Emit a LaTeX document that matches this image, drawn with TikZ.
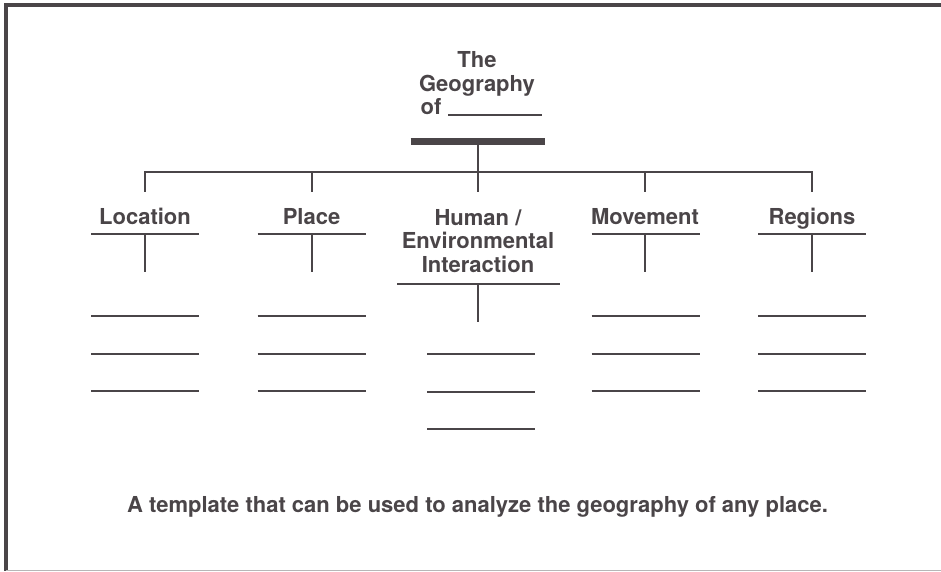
\documentclass[tikz,border=0pt]{standalone}
\usepackage{fontspec}
\setmainfont{TeX Gyre Heros}
\definecolor{ink}{HTML}{4A4548}
\definecolor{edge}{HTML}{B8B6B7}
\tikzset{
  lbl/.style={font=\fontsize{22}{26}\selectfont\bfseries, text=ink, inner sep=0pt, anchor=base},
  rule/.style={draw=ink, line width=2pt},
  blank/.style={draw=ink, line width=2pt}
}
\begin{document}
\begin{tikzpicture}[x=1pt, y=-1pt]
        \useasboundingbox (0,0) rectangle (941,571);
        % frame
        \draw[ink, line width=3.5pt] (941,5) -- (6,5) -- (6,571);
        \draw[edge, line width=1pt] (6,570) -- (941,570);

        % title
        \node[lbl] (the) at (477,67) {The};
        \node[lbl] (geo) at (477,91.5) {Geography};
        \node[lbl, anchor=base west] (of) at (420.5,114) {of};
        \coordinate (ofa) at (448,115);
        \coordinate (ofb) at (542,115);
        \draw[rule, line width=1.8pt] (ofa) -- (ofb);
        \coordinate (bara) at (410.5,141.5);
        \coordinate (barb) at (545,141.5);
        \draw[ink, line width=7pt] (bara) -- (barb);
        \coordinate (trunk) at (478,141.5);
        \coordinate (hub) at (478,172);
        \draw[rule] (trunk) -- (hub);

        % branch line
        \coordinate (brl) at (145,172);
        \coordinate (brr) at (812,172);
        \draw[rule] (brl |- 0,191.5) -- (brl) -- (brr) -- (brr |- 0,191.5);
        \coordinate (d2) at (311.5,191.5);
        \coordinate (d3) at (478,191.5);
        \coordinate (d4) at (645,191.5);
        \draw[rule] (d2 |- hub) -- (d2);
        \draw[rule] (hub) -- (d3);
        \draw[rule] (d4 |- hub) -- (d4);

        % headings
        \node[lbl] (loc) at (145,224) {Location};
        \node[lbl] (pla) at (311.5,224) {Place};
        \node[lbl] (hum1) at (478,225) {Human /};
        \node[lbl] (hum2) at (478,248.5) {Environmental};
        \node[lbl] (hum3) at (478,272) {Interaction};
        \node[lbl] (mov) at (645,224) {Movement};
        \node[lbl] (reg) at (812,224) {Regions};

        % Location
        \draw[rule] (91,234) -- (199,234);
        \draw[rule] (145,234) -- (145,272);
        \draw[blank] (91,315.5) -- (199,315.5);
        \draw[blank] (91,353.5) -- (199,353.5);
        \draw[blank] (91,391) -- (199,391);

        % Place
        \draw[rule] (257.5,234) -- (365.5,234);
        \draw[rule] (311.5,234) -- (311.5,272);
        \draw[blank] (257.5,315.5) -- (365.5,315.5);
        \draw[blank] (257.5,353.5) -- (365.5,353.5);
        \draw[blank] (257.5,391) -- (365.5,391);

        % Human / Environmental Interaction
        \draw[rule] (397,283.5) -- (559.5,283.5);
        \draw[rule] (478,283.5) -- (478,322);
        \draw[blank] (427,353.5) -- (535,353.5);
        \draw[blank] (427,391.5) -- (535,391.5);
        \draw[blank] (427,429) -- (535,429);

        % Movement
        \draw[rule] (591.5,234) -- (699.5,234);
        \draw[rule] (645,234) -- (645,272);
        \draw[blank] (591.5,315.5) -- (699.5,315.5);
        \draw[blank] (591.5,353.5) -- (699.5,353.5);
        \draw[blank] (591.5,391) -- (699.5,391);

        % Regions
        \draw[rule] (758,234) -- (866,234);
        \draw[rule] (812,234) -- (812,272);
        \draw[blank] (758,315.5) -- (866,315.5);
        \draw[blank] (758,353.5) -- (866,353.5);
        \draw[blank] (758,391) -- (866,391);

        % caption
        \node[lbl] (cap) at (477.5,512.5) {A template that can be used to analyze the geography of any place.};
\end{tikzpicture}
\end{document}
